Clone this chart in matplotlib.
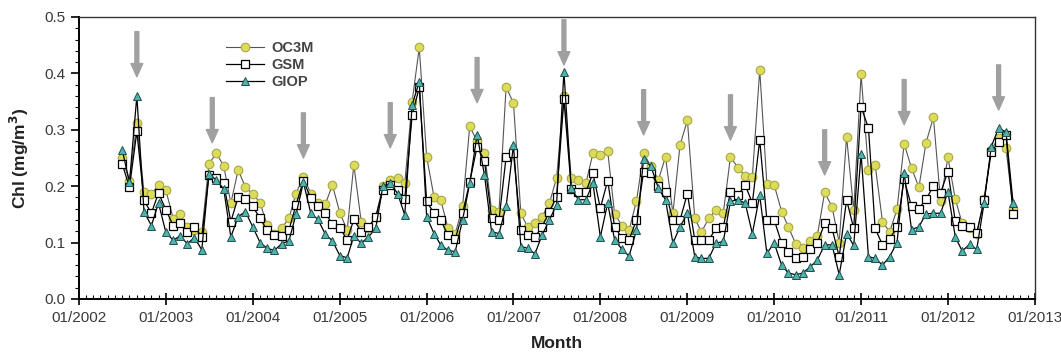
"""
Monthly chlorophyll time series from three ocean colour algorithms.
"""
import matplotlib
matplotlib.use("Agg")
import matplotlib.pyplot as plt
import matplotlib.dates as mdates
from matplotlib.ticker import MultipleLocator
import pandas as pd

plt.rcParams["font.family"] = ["Liberation Sans", "DejaVu Sans"]

# monthly values, Jul 2002 .. Oct 2012
START = "2002-07-01"
oc3m = [
    0.25, 0.21, 0.312, 0.19, 0.186, 0.202,
    0.193, 0.142, 0.15, 0.127, 0.122, 0.118, 0.24, 0.258, 0.236, 0.17, 0.229, 0.198,
    0.186, 0.171, 0.131, 0.116, 0.125, 0.143, 0.187, 0.217, 0.187, 0.171, 0.168, 0.202,
    0.153, 0.122, 0.238, 0.137, 0.125, 0.146, 0.2, 0.211, 0.214, 0.205, 0.35, 0.446,
    0.252, 0.181, 0.176, 0.125, 0.115, 0.164, 0.306, 0.28, 0.259, 0.158, 0.155, 0.376,
    0.347, 0.152, 0.128, 0.134, 0.146, 0.17, 0.214, 0.36, 0.214, 0.211, 0.205, 0.258,
    0.255, 0.262, 0.151, 0.13, 0.122, 0.174, 0.258, 0.235, 0.211, 0.252, 0.152, 0.273,
    0.317, 0.143, 0.119, 0.143, 0.158, 0.153, 0.252, 0.233, 0.218, 0.217, 0.406, 0.204,
    0.202, 0.155, 0.128, 0.098, 0.09, 0.102, 0.112, 0.189, 0.163, 0.1, 0.288, 0.157,
    0.398, 0.228, 0.238, 0.137, 0.119, 0.159, 0.275, 0.232, 0.198, 0.277, 0.322, 0.174,
    0.251, 0.177, 0.134, 0.125, 0.115, 0.177, 0.265, 0.285, 0.267, 0.16,
]
gsm = [
    0.24, 0.198, 0.297, 0.175, 0.152, 0.188,
    0.158, 0.13, 0.135, 0.118, 0.128, 0.11, 0.22, 0.215, 0.205, 0.137, 0.181, 0.178,
    0.164, 0.143, 0.122, 0.113, 0.111, 0.122, 0.167, 0.21, 0.179, 0.165, 0.152, 0.133,
    0.126, 0.105, 0.141, 0.119, 0.128, 0.145, 0.193, 0.202, 0.193, 0.178, 0.326, 0.375,
    0.173, 0.152, 0.14, 0.113, 0.106, 0.152, 0.207, 0.27, 0.245, 0.143, 0.14, 0.252,
    0.258, 0.122, 0.113, 0.11, 0.128, 0.155, 0.181, 0.354, 0.195, 0.19, 0.19, 0.223,
    0.161, 0.21, 0.128, 0.108, 0.105, 0.14, 0.226, 0.223, 0.2, 0.19, 0.14, 0.14,
    0.187, 0.105, 0.105, 0.105, 0.125, 0.128, 0.19, 0.184, 0.202, 0.17, 0.282, 0.14,
    0.14, 0.099, 0.084, 0.072, 0.075, 0.088, 0.099, 0.134, 0.125, 0.075, 0.176, 0.125,
    0.341, 0.303, 0.125, 0.096, 0.106, 0.128, 0.212, 0.164, 0.16, 0.177, 0.2, 0.188,
    0.226, 0.138, 0.13, 0.127, 0.117, 0.175, 0.261, 0.278, 0.29, 0.151,
]
giop = [
    0.265, 0.207, 0.36, 0.155, 0.13, 0.17,
    0.118, 0.104, 0.112, 0.098, 0.109, 0.087, 0.222, 0.211, 0.195, 0.11, 0.146, 0.155,
    0.128, 0.1, 0.09, 0.086, 0.098, 0.103, 0.15, 0.207, 0.152, 0.141, 0.115, 0.103,
    0.077, 0.073, 0.112, 0.099, 0.11, 0.125, 0.2, 0.205, 0.187, 0.149, 0.344, 0.385,
    0.146, 0.116, 0.096, 0.086, 0.084, 0.14, 0.205, 0.291, 0.22, 0.119, 0.116, 0.164,
    0.273, 0.093, 0.09, 0.08, 0.113, 0.14, 0.167, 0.403, 0.196, 0.176, 0.176, 0.205,
    0.11, 0.17, 0.105, 0.088, 0.076, 0.122, 0.249, 0.235, 0.196, 0.176, 0.099, 0.128,
    0.152, 0.075, 0.072, 0.072, 0.099, 0.102, 0.173, 0.176, 0.17, 0.116, 0.184, 0.081,
    0.099, 0.06, 0.046, 0.043, 0.046, 0.057, 0.069, 0.096, 0.096, 0.043, 0.116, 0.095,
    0.257, 0.075, 0.072, 0.06, 0.075, 0.1, 0.224, 0.123, 0.128, 0.151, 0.152, 0.152,
    0.19, 0.11, 0.085, 0.097, 0.088, 0.17, 0.27, 0.303, 0.296, 0.17,
]

# summer bloom markers (date, value at arrow tip)
arrow_dates = ["2002-09-01", "2003-07-15", "2004-08-01", "2005-08-01",
               "2006-08-01", "2007-08-01", "2008-07-01", "2009-07-01",
               "2010-08-01", "2011-07-01", "2012-08-01"]
arrow_tips = [0.394, 0.277, 0.25, 0.268, 0.348, 0.415, 0.291, 0.282,
              0.22, 0.309, 0.335]
ARROW_LEN = 0.08

TEXT_COL = "#3a3a3a"

dates = pd.date_range(START, periods=len(oc3m), freq="MS")

fig = plt.figure(figsize=(10.61, 3.57), dpi=100)
ax = fig.add_axes([0.0745, 0.1625, 0.901, 0.79])

ax.plot(dates, oc3m, color="#555555", lw=0.8, marker="o", ms=6.2,
        mfc="#dcdc5a", mec="#a8a84a", mew=0.8, label="OC3M", zorder=3)
ax.plot(dates, gsm, color="black", lw=0.9, marker="s", ms=5.2,
        mfc="white", mec="black", mew=0.9, label="GSM", zorder=4)
ax.plot(dates, giop, color="black", lw=0.9, marker="^", ms=5.5,
        mfc="#4cb3ad", mec="#1f4f4c", mew=0.7, label="GIOP", zorder=5)

for d, tip in zip(arrow_dates, arrow_tips):
    d = pd.Timestamp(d)
    ax.annotate("", xy=(d, tip), xytext=(d, tip + ARROW_LEN),
                arrowprops=dict(width=2.8, headwidth=8.5, headlength=9.5,
                                color="#a0a0a0", shrink=0), zorder=2)

ax.set_xlim(pd.Timestamp("2002-01-01"), pd.Timestamp("2013-01-01"))
ax.set_ylim(0, 0.5)

ax.xaxis.set_major_locator(mdates.YearLocator())
ax.xaxis.set_major_formatter(mdates.DateFormatter("%m/%Y"))
ax.xaxis.set_minor_locator(mdates.MonthLocator())
ax.yaxis.set_major_locator(MultipleLocator(0.1))
ax.yaxis.set_minor_locator(MultipleLocator(0.02))
ax.yaxis.set_major_formatter(plt.FormatStrFormatter("%.1f"))

ax.tick_params(axis="x", which="major", direction="inout", length=9,
               width=1.2, labelsize=11, labelcolor=TEXT_COL, pad=4)
ax.tick_params(axis="x", which="minor", direction="in", length=3, width=0.8)
ax.tick_params(axis="y", which="major", direction="out", length=6,
               width=1.2, labelsize=11, labelcolor=TEXT_COL)
ax.tick_params(axis="y", which="minor", direction="out", length=3, width=0.8)

for side in ["left", "bottom"]:
    ax.spines[side].set_linewidth(1.4)
for side in ["top", "right"]:
    ax.spines[side].set_linewidth(1.0)
    ax.spines[side].set_color("#333333")

ax.set_ylabel("Chl (mg/m$^\\mathbf{3}$)", fontsize=12.5, fontweight="bold",
              color="#222222", labelpad=10)
ax.set_xlabel("Month", fontsize=12.5, fontweight="bold", color="#222222",
              labelpad=8)

leg = ax.legend(loc="upper left", bbox_to_anchor=(0.14, 0.96), frameon=False,
                handlelength=2.6, handletextpad=0.5, labelspacing=0.2,
                prop={"size": 10.5, "weight": "bold"})
for t in leg.get_texts():
    t.set_color("#444444")

plt.savefig("out.png", dpi=100)
plt.close()
